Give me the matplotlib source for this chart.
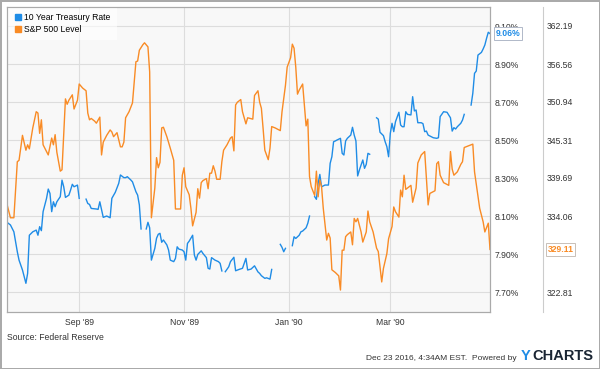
import matplotlib

matplotlib.use('Agg')

import numpy as np
import pandas as pd
import matplotlib.pyplot as plt
import matplotlib.dates as mdates
from matplotlib.lines import Line2D

plt.rcParams['font.family'] = ['Liberation Sans', 'DejaVu Sans']

# days counted from 1 Sep 1989
base = pd.Timestamp('1989-09-01')

rate_days = [-42, -40, -38, -36, -35, -34, -33, -31, -30, -29, -27, -25, -24, -23, -22, -21,
             -19, -18, -17, -16, -15, -14, -13, -11, -10, -9, -8, -6, -5, -4, -3, -1, 0,
             2, 4, 5, 6, 7, 10, 11, 12, 14, 16, 18, 19, 21, 23, 24, 26, 27, 28, 30, 31, 33,
             34, 35, 36, 38, 39, 40, 41, 42, 44, 45, 46, 47, 48, 49, 51, 52, 53, 55, 56, 57,
             58, 60, 61, 62, 63, 64, 65, 66, 67, 68, 69, 71, 72, 74, 75, 76, 77, 79, 81, 82,
             83, 84, 85, 87, 88, 90, 91, 93, 95, 97, 98, 100, 102, 104, 105, 106, 108, 109,
             111, 112, 114, 117, 118, 119, 120, 122, 124, 125, 126, 128, 129, 130, 132, 133,
             134, 135, 137, 138, 139, 140, 141, 143, 145, 146, 147, 148, 149, 150, 152, 153,
             154, 155, 156, 158, 159, 160, 161, 162, 163, 164, 165, 166, 167, 168, 169, 171,
             173, 174, 175, 177, 178, 179, 180, 181, 182, 183, 184, 186, 187, 188, 189, 190,
             191, 193, 194, 195, 196, 197, 199, 200, 201, 202, 203, 205, 206, 208, 209, 210,
             212, 214, 216, 217, 218, 219, 220, 222, 223, 224, 226, 228, 229, 230, 231, 232,
             234, 235, 236, 237, 238, 239]
rate = [8.067, 8.053, 8.017, 7.912, 7.868, 7.842, 7.816, 7.746, 7.798, 7.999, 8.017, 8.026,
        7.999, 8.044, 8.023, 8.123, 8.193, 8.242, 8.219, 8.123, 8.175, 8.149, 8.175, 8.202,
        8.289, 8.254, 8.198, 8.210, 8.237, 8.267, 8.254, 8.263, 8.193,
        np.nan, 8.189, 8.166, 8.161, 8.140, 8.137, 8.135, 8.175, 8.093, 8.100, 8.091, 8.193,
        8.225, 8.272, 8.316, 8.302, 8.302, 8.307, 8.290, 8.280, 8.228, 8.210, 8.158, 8.032,
        np.nan, 8.032, 8.067, 8.038, 7.868, 7.930, 7.983, 8.004, 8.009, 7.962, 7.974, 7.948,
        7.921, 7.868, 7.860, 7.877, 7.938, 7.926, 7.921, 7.912, 7.868, 7.956, 7.968, 7.983,
        7.999, 7.895, 7.868, 7.898, 7.917, 7.903, 7.881, 7.825, 7.821, 7.881, 7.868, 7.860,
        7.851, 7.811, np.nan, 7.807, 7.833, 7.860, 7.883, 7.812, 7.819, 7.825, 7.877, 7.816,
        7.821, 7.838, 7.806, 7.798, 7.786, 7.772, 7.775, 7.768, 7.819, np.nan, 7.951, 7.935,
        7.912, 7.930, np.nan, 7.944, 7.991, 7.982, 7.999, 8.017, 8.021, 8.038, 8.062, 8.100,
        np.nan, 8.202, 8.188, 8.272, 8.319, 8.254, 8.263, 8.263, 8.377, 8.412, 8.491, 8.495,
        8.500, 8.509, 8.430, 8.421, 8.495, 8.509, 8.526, 8.567, 8.526, 8.495, 8.311, 8.342,
        8.368, 8.395, 8.351, 8.372, 8.430, 8.425, np.nan, 8.617, 8.610, 8.541, 8.523, 8.491,
        8.465, 8.412, 8.535, 8.588, 8.544, 8.596, 8.646, 8.579, 8.570, 8.570, 8.649, 8.635,
        8.632, 8.728, 8.653, 8.658, 8.591, 8.591, 8.586, 8.544, 8.547, 8.526, 8.517, 8.512,
        8.509, 8.512, 8.623, 8.649, 8.646, 8.617, 8.547, 8.565, 8.558, 8.570, 8.588, 8.605,
        8.635, np.nan, 8.684, 8.746, 8.851, 8.863, 8.947, 8.961, 8.979, 9.000, 9.035, 9.067,
        9.06]

sp_days = [-42, -40, -38, -36, -35, -33, -31, -30, -29, -27, -25, -24, -23, -22, -21, -18,
           -16, -15, -14, -13, -11, -10, -8, -7, -6, -4, -3, -1, 0, 2, 4, 5, 6, 7, 9, 10, 12,
           13, 14, 16, 18, 19, 20, 22, 24, 25, 26, 27, 29, 31, 33, 34, 35, 37, 38, 40, 41, 42,
           44, 45, 46, 47, 48, 49, 51, 53, 55, 56, 59, 60, 61, 62, 64, 65, 66, 68, 69, 70, 71,
           72, 74, 75, 76, 77, 78, 79, 80, 82, 83, 84, 86, 88, 89, 90, 91, 92, 94, 95, 97, 98,
           101, 102, 104, 105, 106, 107, 108, 110, 111, 112, 114, 117, 118, 120, 121, 123, 124,
           125, 126, 127, 128, 130, 131, 132, 133, 134, 135, 137, 138, 139, 140, 141, 142, 144,
           145, 146, 147, 149, 151, 152, 153, 154, 155, 156, 158, 159, 160, 161, 162, 164, 165,
           167, 168, 169, 171, 173, 174, 176, 177, 179, 180, 182, 183, 184, 186, 187, 188, 189,
           190, 192, 193, 194, 196, 197, 199, 201, 202, 203, 204, 207, 208, 209, 210, 212, 215,
           216, 217, 218, 220, 222, 223, 224, 225, 229, 230, 233, 235, 236, 238, 239]
sp500 = [335.8, 333.8, 333.8, 342.1, 342.3, 346.0, 343.8, 344.6, 344.0, 347.1, 349.5, 349.3,
         346.3, 348.3, 344.6, 343.1, 345.6, 344.6, 346.1, 343.5, 340.7, 340.9, 351.4, 350.6,
         351.2, 352.0, 349.9, 351.2, 353.6, 353.0, 352.6, 349.3, 348.3, 348.5, 348.1, 347.8,
         348.7, 343.1, 345.0, 346.0, 346.8, 346.5, 345.8, 346.4, 344.3, 344.3, 345.0, 348.6,
         349.5, 350.8, 356.9, 357.0, 358.6, 359.4, 359.7, 359.1, 355.4, 333.8, 338.2, 342.7,
         341.2, 342.0, 347.1, 347.2, 345.8, 344.1, 342.3, 335.1, 335.1, 340.1, 341.2, 338.4,
         337.2, 335.2, 332.6, 334.6, 338.1, 336.7, 339.0, 339.3, 339.6, 338.1, 340.4, 340.4,
         341.5, 340.7, 339.5, 339.5, 342.1, 343.8, 344.6, 345.6, 345.8, 343.7, 350.5, 350.9,
         351.3, 349.5, 347.7, 348.6, 348.4, 351.9, 352.6, 350.9, 350.0, 347.0, 343.8, 342.4,
         344.1, 347.3, 347.1, 346.7, 349.5, 353.4, 356.1, 357.5, 359.5, 358.9, 356.1, 352.1,
         352.7, 353.6, 350.5, 347.4, 348.4, 339.9, 338.4, 337.1, 340.7, 336.9, 339.4, 338.4,
         335.2, 330.5, 331.5, 330.8, 326.1, 325.7, 325.2, 323.1, 329.0, 329.0, 331.0, 331.3,
         331.7, 329.8, 333.7, 333.2, 333.7, 331.7, 330.2, 331.7, 334.8, 333.2, 331.7, 329.3,
         328.8, 324.3, 326.3, 328.5, 330.7, 332.5, 335.4, 334.7, 333.9, 337.9, 336.9, 340.1,
         338.0, 338.4, 338.6, 336.1, 338.2, 341.9, 343.1, 343.6, 339.6, 335.7, 337.4, 337.8,
         341.8, 342.1, 340.1, 339.0, 338.6, 343.6, 341.0, 340.1, 340.6, 341.7, 342.1, 344.2,
         344.3, 344.7, 340.6, 335.2, 333.2, 331.7, 333.0, 329.11]

rate_ticks = [7.70, 7.90, 8.10, 8.30, 8.50, 8.70, 8.90, 9.10]
# the 328.44 label sits under the last-value tag in the original
sp_ticks = [322.81, 328.44, 334.06, 339.69, 345.31, 350.94, 356.56, 362.19]
sp_ticklabels = ['322.81', '', '334.06', '339.69', '345.31', '350.94', '356.56', '362.19']

rate_dates = base + pd.to_timedelta(rate_days, unit='D')
sp_dates = base + pd.to_timedelta(sp_days, unit='D')

blue = '#1f8ce6'
orange = '#f98b25'

fig = plt.figure(figsize=(6, 3.69), dpi=100)
fig.patch.set_edgecolor('#aaaaaa')
fig.patch.set_linewidth(2)
ax = fig.add_axes([7 / 600, 1 - 312 / 369, 483 / 600, 305 / 369])
ax.set_facecolor('#f8f8f8')
ax2 = ax.twinx()

ax.plot(rate_dates, rate, color=blue, lw=1.0)
ax2.plot(sp_dates, sp500, color=orange, lw=1.0)

ax.set_xlim(rate_dates[0], rate_dates[-1])
ax.set_ylim(7.595, 9.2)
ax2.set_ylim(319.85, 365.0)

ax.yaxis.tick_right()
ax.set_yticks(rate_ticks)
ax.set_yticklabels([f'{t:.2f}%' for t in rate_ticks])
ax2.set_yticks(sp_ticks)
ax2.set_yticklabels(sp_ticklabels)
ax.tick_params(axis='y', length=0, pad=3, labelsize=6.2, labelcolor='#333333')
ax2.tick_params(axis='y', length=0, pad=40.5, labelsize=6.2, labelcolor='#333333')

ax.xaxis.set_major_locator(mdates.MonthLocator(bymonth=[1, 3, 5, 7, 9, 11]))
ax.xaxis.set_major_formatter(mdates.DateFormatter("%b '%y"))
ax.tick_params(axis='x', length=0, pad=4, labelsize=6.2, labelcolor='#333333')

ax.grid(True, color='#dddddd', lw=0.8)
ax.set_axisbelow(True)
for a in (ax, ax2):
    for s in a.spines.values():
        s.set_color('#aaaaaa')
        s.set_linewidth(0.8)

handles = [Line2D([], [], marker='s', ls='', color=blue, markersize=4),
           Line2D([], [], marker='s', ls='', color=orange, markersize=4)]
leg = ax.legend(handles, ['10 Year Treasury Rate', 'S&P 500 Level'], loc='upper left',
                fontsize=6.2, frameon=True, fancybox=False, borderaxespad=0,
                handletextpad=0.1, labelspacing=0.35, borderpad=0.7, handlelength=1.2)
leg.get_frame().set_facecolor('white')
leg.get_frame().set_alpha(0.6)
leg.get_frame().set_edgecolor('none')
leg.set_zorder(10)

last_rate = rate[-1]
last_sp = sp500[-1]
ax.annotate(f'{last_rate:.2f}%', xy=(1, last_rate), xycoords=('axes fraction', 'data'),
            xytext=(4, 0), textcoords='offset points', va='center', ha='left',
            color=blue, fontsize=6.2, fontweight='bold', annotation_clip=False,
            bbox=dict(boxstyle='square,pad=0.2', fc='white', ec='#b0b8c8', lw=0.7),
            zorder=10)
ax2.annotate(f'{last_sp:.2f}', xy=(1, last_sp), xycoords=('axes fraction', 'data'),
             xytext=(41.5, 0), textcoords='offset points', va='center', ha='left',
             color=orange, fontsize=6.2, fontweight='bold', annotation_clip=False,
             bbox=dict(boxstyle='square,pad=0.2', fc='white', ec='#c8c0b8', lw=0.7),
             zorder=10)

fig.add_artist(Line2D([543 / 600, 543 / 600], [1 - 7 / 369, 1 - 312 / 369],
                      color='#cccccc', lw=0.8))

fig.text(7 / 600, 1 - 337 / 369, 'Source: Federal Reserve', fontsize=6.2,
         color='#333333', va='center')
fig.text(517 / 600, 1 - 358 / 369, 'Dec 23 2016, 4:34AM EST.  Powered by', fontsize=6,
         color='#333333', va='center', ha='right')
fig.text(521 / 600, 1 - 356 / 369, 'Y', fontsize=10.5, fontweight='bold',
         color=blue, va='center')
fig.text(532 / 600, 1 - 356 / 369, 'CHARTS', fontsize=10.5, fontweight='bold',
         color='#1a2533', va='center')

fig.savefig('out.png', dpi=100, edgecolor=fig.get_edgecolor())
